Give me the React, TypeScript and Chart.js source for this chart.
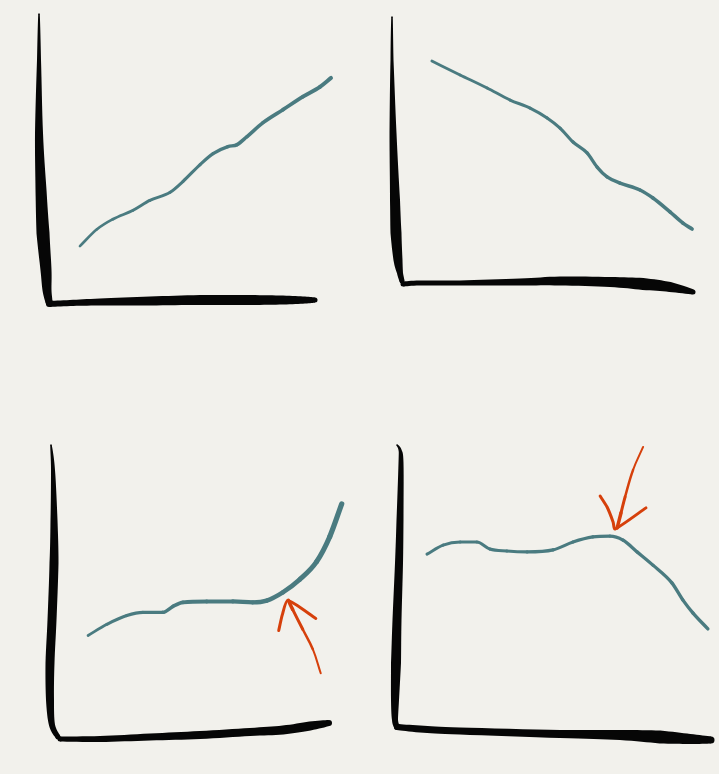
import { useEffect, useRef } from 'react';
import { Chart, registerables } from 'chart.js';
import type { Plugin } from 'chart.js';

Chart.register(...registerables);

const PAPER = '#f2f1ec';
const TEAL = '#4a7b80';
const ORANGE = '#d6400b';
const INK = '#060606';

// top left: steady rise (values are % of each axis)
const riseX = [12.2, 18.5, 24.4, 31.9, 38.1, 45.6, 50.4, 56.7, 61.5, 67.0, 70.4, 74.1, 80.0, 87.4, 94.8, 101.1, 105.2];
const riseY = [19.7, 25.5, 29.0, 32.1, 35.5, 38.3, 42.1, 47.9, 51.7, 54.1, 54.8, 57.6, 62.4, 66.9, 71.4, 74.8, 77.9];

// top right: decline
const fallX = [10.5, 20.1, 29.3, 37.1, 43.9, 49.7, 54.1, 58.5, 63.3, 66.7, 70.1, 74.5, 81.3, 85.7, 91.5, 95.9, 99.0];
const fallY = [83.5, 78.3, 73.4, 68.9, 65.9, 62.2, 58.4, 53.2, 49.1, 43.8, 40.1, 37.8, 35.2, 32.2, 27.0, 22.8, 20.6];

// bottom left: flat, then takes off
const kneeX = [11.4, 18.3, 25.6, 31.5, 38.8, 42.5, 46.2, 54.9, 64.5, 71.8, 76.9, 82.8, 89.0, 95.2, 100, 104.4];
const kneeY = [35.0, 38.8, 41.8, 42.9, 42.9, 44.9, 46.3, 46.6, 46.6, 46.3, 46.9, 49.7, 54.1, 60.2, 68.7, 79.9];
const kneeShaftX = [96.7, 93.8, 90.1, 86.4, 84.8];
const kneeShaftY = [22.1, 30.3, 37.1, 43.9, 47.0];
const kneeHeadX = [81.3, 82.6, 84.6, 94.9];
const kneeHeadY = [36.7, 42.0, 46.9, 40.8];

// bottom right: plateau, peak, then drop
const peakX = [9.8, 14.9, 20.3, 25.6, 29.7, 35.1, 41.5, 49.7, 56.0, 62.3, 67.7, 71.8, 76.3, 81.3, 87.3, 90.8, 94.0, 98.7];
const peakY = [61.3, 64.5, 65.6, 65.6, 63.1, 62.4, 62.1, 62.8, 65.6, 67.4, 67.7, 66.3, 62.1, 57.4, 51.1, 45.0, 40.4, 34.8];
const peakShaftX = [78.2, 75.0, 72.5, 71.2, 70.0];
const peakShaftY = [99.3, 91.1, 81.6, 75.9, 70.6];
const peakHeadX = [64.6, 66.8, 68.7, 69.3, 79.1];
const peakHeadY = [81.9, 78.0, 72.7, 70.2, 77.7];

type Pt = [number, number, number];

// catmull-rom through the pen points, width interpolated linearly
function resample(pts: Pt[], steps = 8): Pt[] {
  const out: Pt[] = [];
  const f = (a: number, b: number, c: number, d: number, t: number) =>
    0.5 * (2 * b + (-a + c) * t + (2 * a - 5 * b + 4 * c - d) * t * t + (-a + 3 * b - 3 * c + d) * t * t * t);
  for (let i = 0; i < pts.length - 1; i++) {
    const p0 = pts[Math.max(i - 1, 0)];
    const p1 = pts[i];
    const p2 = pts[i + 1];
    const p3 = pts[Math.min(i + 2, pts.length - 1)];
    for (let s = 0; s < steps; s++) {
      const t = s / steps;
      out.push([f(p0[0], p1[0], p2[0], p3[0], t), f(p0[1], p1[1], p2[1], p3[1], t), p1[2] + (p2[2] - p1[2]) * t]);
    }
  }
  out.push(pts[pts.length - 1]);
  return out;
}

function drawStroke(ctx: CanvasRenderingContext2D, pts: Pt[], ox: number, oy: number) {
  const s = resample(pts).map(([x, y, w]) => [x + ox, y + oy, w] as Pt);
  const l: number[][] = [];
  const r: number[][] = [];
  s.forEach((p, i) => {
    const a = s[Math.max(i - 1, 0)];
    const b = s[Math.min(i + 1, s.length - 1)];
    const dx = b[0] - a[0];
    const dy = b[1] - a[1];
    const len = Math.hypot(dx, dy) || 1;
    const nx = (-dy / len) * (p[2] / 2);
    const ny = (dx / len) * (p[2] / 2);
    l.push([p[0] + nx, p[1] + ny]);
    r.push([p[0] - nx, p[1] - ny]);
  });
  ctx.beginPath();
  l.forEach(([x, y], i) => (i ? ctx.lineTo(x, y) : ctx.moveTo(x, y)));
  for (let i = r.length - 1; i >= 0; i--) ctx.lineTo(r[i][0], r[i][1]);
  ctx.closePath();
  ctx.fill();
  for (const p of [s[0], s[s.length - 1]]) {
    ctx.beginPath();
    ctx.arc(p[0], p[1], p[2] / 2, 0, Math.PI * 2);
    ctx.fill();
  }
}

const sketchAxes = (yAxis: Pt[], xAxis: Pt[]): Plugin<'line'> => ({
  id: 'sketchAxes',
  beforeDatasetsDraw(chart) {
    const { ctx, chartArea } = chart;
    ctx.save();
    ctx.fillStyle = INK;
    drawStroke(ctx, yAxis, chartArea.left, chartArea.bottom);
    drawStroke(ctx, xAxis, chartArea.left, chartArea.bottom);
    ctx.restore();
  },
});

const toPoints = (xs: number[], ys: number[]) => xs.map((x, i) => ({ x, y: ys[i] }));

// pen-pressure taper along a dataset
const taper = (from: number, to: number, n: number) => (c: any) => from + ((to - from) * c.p0DataIndex) / n;

interface PanelProps {
  box: { left: number; top: number; width: number; height: number };
  pad: { left: number; top: number; right: number; bottom: number };
  xMax: number;
  lineX: number[];
  lineY: number[];
  w0: number;
  w1: number;
  shaftX?: number[];
  shaftY?: number[];
  headX?: number[];
  headY?: number[];
  yAxis: Pt[];
  xAxis: Pt[];
}

function Panel(props: PanelProps): React.JSX.Element {
  const canvasRef = useRef<HTMLCanvasElement>(null);
  const chartRef = useRef<Chart | null>(null);

  useEffect(() => {
    if (!canvasRef.current) return;
    const { lineX, lineY, w0, w1 } = props;

    const datasets: any[] = [
      {
        data: toPoints(lineX, lineY),
        borderColor: TEAL,
        borderWidth: w0,
        cubicInterpolationMode: 'monotone',
        pointRadius: 0,
        borderCapStyle: 'round',
        borderJoinStyle: 'round',
        clip: false,
        segment: { borderWidth: taper(w0, w1, lineX.length - 1) },
      },
    ];
    if (props.shaftX && props.shaftY && props.headX && props.headY) {
      datasets.push(
        {
          data: toPoints(props.shaftX, props.shaftY),
          borderColor: ORANGE,
          borderWidth: 2,
          tension: 0.4,
          pointRadius: 0,
          borderCapStyle: 'round',
          clip: false,
          segment: { borderWidth: taper(2, 4, props.shaftX.length - 1) },
        },
        {
          data: toPoints(props.headX, props.headY),
          borderColor: ORANGE,
          borderWidth: 3,
          tension: 0.2,
          pointRadius: 0,
          borderCapStyle: 'round',
          borderJoinStyle: 'round',
          clip: false,
        },
      );
    }

    chartRef.current?.destroy();
    chartRef.current = new Chart(canvasRef.current, {
      type: 'line',
      data: { datasets },
      options: {
        responsive: false,
        animation: false,
        events: [],
        layout: { padding: props.pad },
        plugins: { legend: { display: false }, tooltip: { enabled: false } },
        scales: {
          x: { type: 'linear', min: 0, max: props.xMax, display: false },
          y: { type: 'linear', min: 0, max: 100, display: false },
        },
      },
      plugins: [sketchAxes(props.yAxis, props.xAxis)],
    });

    return () => {
      chartRef.current?.destroy();
      chartRef.current = null;
    };
  }, [props]);

  const { box } = props;
  return (
    <div style={{ position: 'absolute', left: box.left, top: box.top, width: box.width, height: box.height }}>
      <canvas ref={canvasRef} width={box.width} height={box.height} style={{ width: box.width, height: box.height }} />
    </div>
  );
}

// pen strokes for the hand-drawn axes, px offsets from the axis corner: [dx, dy, width]
const axesA = {
  y: [[-8, -289, 1.5], [-8, -243, 4], [-8, -170, 8], [-6, -113, 11], [-4, -70, 13], [-1, -33, 11], [0, -13, 9], [2, -1, 7]] as Pt[],
  x: [[2, 1, 6], [23, 0, 6], [53, -1, 7], [103, -2, 9], [153, -3, 10], [203, -3, 10], [236, -3, 9], [258, -3, 7], [268, -3, 5]] as Pt[],
};
const axesB = {
  y: [[-9, -267, 1.5], [-9, -224, 3], [-8, -151, 7], [-6, -84, 10], [-5, -51, 11], [-3, -24, 9], [-1, -11, 6], [1, -3, 5]] as Pt[],
  x: [[2, 0, 5], [19, -1, 5], [59, -1, 5], [119, -2, 7], [159, -3, 9], [209, -2, 10], [242, 0, 12], [269, 3, 10], [292, 8, 5]] as Pt[],
};
const axesC = {
  y: [[-6, -293, 1.5], [-4, -268, 4], [-3, -218, 7], [-3, -175, 9], [-5, -118, 9], [-7, -75, 9], [-7, -38, 8], [-5, -13, 6], [1, -1, 5]] as Pt[],
  x: [[3, 1, 5], [43, 1, 6], [93, -1, 7], [143, -3, 8], [193, -6, 8], [226, -8, 9], [253, -12, 9], [272, -15, 6]] as Pt[],
};
const axesD = {
  y: [[1, -282, 1.5], [4, -277, 3], [5, -264, 5], [4, -207, 7], [3, -164, 8], [1, -107, 9], [0, -64, 10], [-1, -27, 8], [-1, -7, 6], [1, 0, 6]] as Pt[],
  x: [[1, 0, 6], [24, 2, 7], [64, 4, 7], [164, 7, 8], [224, 8, 10], [264, 10, 13], [294, 12, 10], [315, 13, 7]] as Pt[],
};

// chart area spans 0..xMax; the axis box itself is 0..100
const panelA: PanelProps = {
  box: { left: 0, top: 0, width: 360, height: 387 },
  pad: { left: 47, top: 14, right: 16, bottom: 84 },
  xMax: 110,
  lineX: riseX, lineY: riseY, w0: 2.6, w1: 4,
  yAxis: axesA.y, xAxis: axesA.x,
};
const panelB: PanelProps = {
  box: { left: 360, top: 0, width: 359, height: 387 },
  pad: { left: 41, top: 17, right: 24, bottom: 103 },
  xMax: 100,
  lineX: fallX, lineY: fallY, w0: 2.8, w1: 3.8,
  yAxis: axesB.y, xAxis: axesB.x,
};
const panelC: PanelProps = {
  box: { left: 0, top: 387, width: 360, height: 387 },
  pad: { left: 57, top: 58, right: 3, bottom: 36 },
  xMax: 110,
  lineX: kneeX, lineY: kneeY, w0: 2.8, w1: 5.4,
  shaftX: kneeShaftX, shaftY: kneeShaftY, headX: kneeHeadX, headY: kneeHeadY,
  yAxis: axesC.y, xAxis: axesC.x,
};
const panelD: PanelProps = {
  box: { left: 360, top: 387, width: 359, height: 387 },
  pad: { left: 36, top: 58, right: 7, bottom: 47 },
  xMax: 100,
  lineX: peakX, lineY: peakY, w0: 3, w1: 3.4,
  shaftX: peakShaftX, shaftY: peakShaftY, headX: peakHeadX, headY: peakHeadY,
  yAxis: axesD.y, xAxis: axesD.x,
};

export default function App(): React.JSX.Element {
  return (
    <div style={{ position: 'absolute', left: 0, top: 0, width: 719, height: 774, background: PAPER, overflow: 'hidden' }}>
      <Panel {...panelA} />
      <Panel {...panelB} />
      <Panel {...panelC} />
      <Panel {...panelD} />
    </div>
  );
}
